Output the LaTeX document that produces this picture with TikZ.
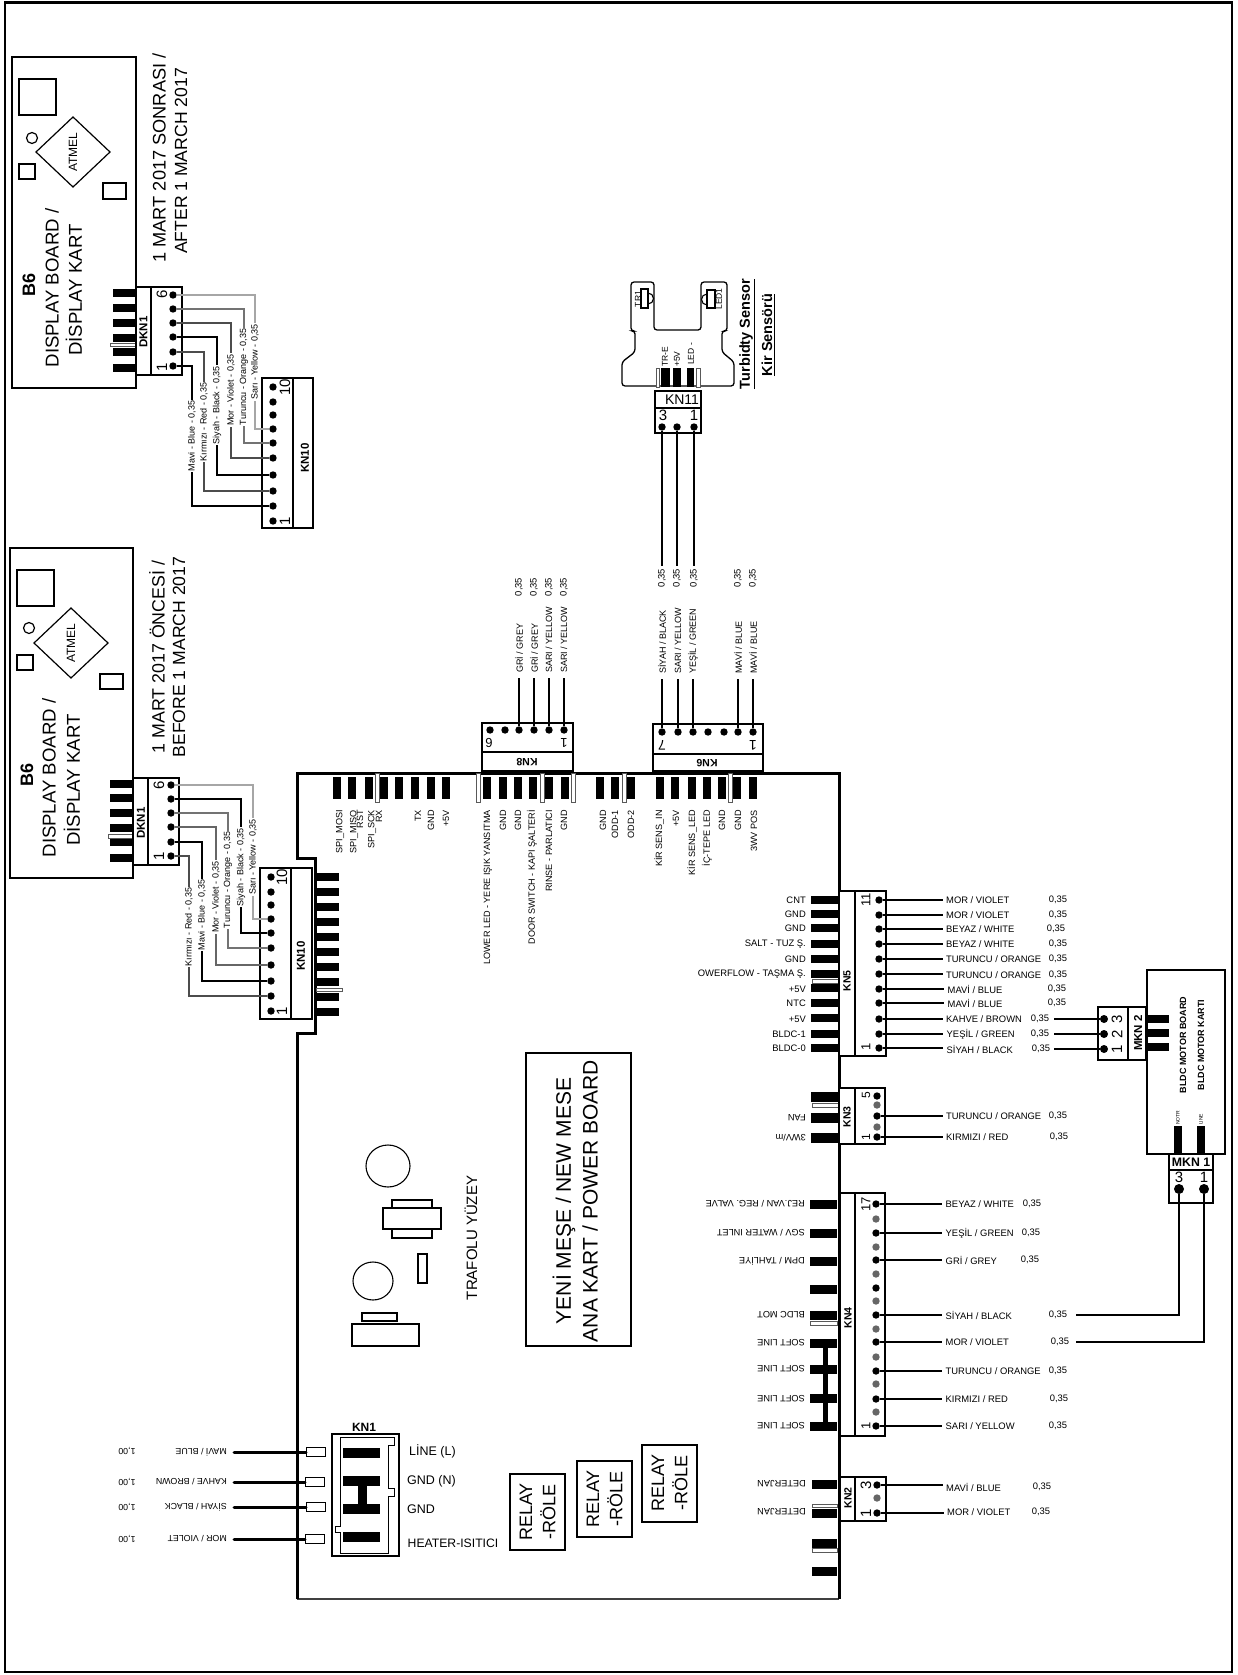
\documentclass[tikz,border=0pt]{standalone}
\usepackage{fontspec}
\setmainfont{Liberation Sans}
\newcommand{\fz}[1]{\fontsize{#1}{#1}\selectfont}
\tikzset{
  dot/.style={circle, fill=black, inner sep=0, minimum size=7.4},
  graydot/.style={dot, fill=black!60},
  bigdot/.style={dot, minimum size=10},
  midot/.style={dot, minimum size=8},
  box/.style={draw=black, fill=white, line width=1.5},
  wire/.style={line width=1.4},
  heavywire/.style={line width=3, line cap=round},
  slot/.style={draw=black!65, fill=white, line width=.9},
  txt/.style={inner sep=0, align=center},
  up/.style={txt, rotate=90},
  over/.style={txt, rotate=180},
  pinlabel/.style={up, anchor=east, font=\fz{9.1}},
  sidelabel/.style={txt, anchor=east, font=\fz{9.4}},
  backlabel/.style={over, anchor=west, font=\fz{9.2}},
  rowlabel/.style={inner ysep=0, inner xsep=3.5, anchor=west, font=\fz{9.4}},
  rowvalue/.style={txt, font=\fz{9.4}},
  uplabel/.style={up, inner xsep=5, anchor=west, font=\fz{9}},
  upvalue/.style={up, inner xsep=3, font=\fz{9.4}},
  harnesslabel/.style={up, inner sep=1, fill=white, font=\fz{9}},
  boldlabel/.style={up, font=\fz{10.5}\bfseries},
  num/.style={up, font=\fz{15}},
  backnum/.style={over, font=\fz{14}},
  mainslabel/.style={over, inner xsep=7, inner ysep=0, anchor=west, font=\fz{8.8}}
}
\begin{document}
\begin{tikzpicture}[x=1pt, y=-1pt]
    \useasboundingbox (0,0) rectangle (1237,1675);
    \draw[line width=2.5] (5,2.5) rectangle (1232,1672);

    %Display board, after
    \draw[box] (12,57) rectangle (136,388);
    \draw[line width=1.2] (19,79) rectangle (56,115);
    \draw[line width=1.2] (32,138) circle (5.5);
    \draw[line width=1.2] (36,152) -- (73,117) -- (110,152) -- (73,187) -- cycle;
    \draw[line width=1.2] (19,164) rectangle (35,179);
    \draw[line width=1.2] (103,183) rectangle (126,199);
    \node[up, font=\fz{12}] (atmela) at (73,152) {ATMEL};
    \node[up, font=\fz{18}\bfseries] (bsixa) at (29,285) {B6};
    \node[up, font=\fz{18.6}] (boarda) at (52,288) {DISPLAY BOARD /};
    \node[up, font=\fz{18.6}] (karta) at (74,290) {DİSPLAY KART};
    \node[up, font=\fz{18.2}] (datea) at (159,158) {1 MART 2017 SONRASI /};
    \node[up, font=\fz{17.6}] (dateb) at (181,161) {AFTER 1 MARCH 2017};
    \foreach \y in {293,308,323,338,352,368}
        \fill (113,\y-4) rectangle (136,\y+4);
    \draw[slot] (110,343) rectangle (136,346);
    \draw[box] (136,287) rectangle (182,375);
    \draw[box] (151,287) -- (151,375);
    \node[boldlabel, font=\fz{11.5}\bfseries] (dkna) at (143.5,332) {DKN1};
    \node[num] (dkna6) at (162,294) {6};
    \node[num] (dkna1) at (162,367) {1};
    \foreach \y [count=\i] in {366,352,337,323,309,295}
        \node[dot] (dka\i) at (173,\y) {};
    \draw[box] (262,378) rectangle (313,528);
    \draw[box] (293,378) -- (293,528);
    \node[boldlabel, font=\fz{11.5}\bfseries] (kna) at (305,458) {KN10};
    \node[num, font=\fz{15}] (kna10n) at (285,387) {10};
    \node[num] (kna1n) at (285,521) {1};
    \foreach \y [count=\i] in {521,506,491,475,458,443,429,415,402,387}
        \node[dot] (ka\i) at (273,\y) {};
    \foreach \i/\k/\dx/\col in {1/2/19/black, 2/3/31/black!70, 3/4/44/black, 4/5/58/black!70, 5/6/71/black!55, 6/7/82/black!35}
        \draw[wire, \col] (dka\i) -- ++(\dx,0) |- (ka\k);
    \node[harnesslabel] (hla1) at (192,436) {Mavi - Blue - 0,35};
    \node[harnesslabel] (hla2) at (204,422) {Kırmızı - Red - 0,35};
    \node[harnesslabel] (hla3) at (217,405) {Siyah - Black - 0,35};
    \node[harnesslabel] (hla4) at (231,390) {Mor - Violet - 0,35};
    \node[harnesslabel] (hla5) at (244,377) {Turuncu - Orange - 0,35};
    \node[harnesslabel] (hla6) at (255,362) {Sarı - Yellow - 0,35};

    %Display board, before
    \draw[box] (10,548) rectangle (133,878);
    \draw[line width=1.2] (17,570) rectangle (54,606);
    \draw[line width=1.2] (29,628) circle (5.5);
    \draw[line width=1.2] (34,643) -- (71,608) -- (108,643) -- (71,678) -- cycle;
    \draw[line width=1.2] (17,655) rectangle (33,670);
    \draw[line width=1.2] (100,674) rectangle (123,689);
    \node[up, font=\fz{12}] (atmelb) at (71,643) {ATMEL};
    \node[up, font=\fz{18}\bfseries] (bsixb) at (27,775) {B6};
    \node[up, font=\fz{18.6}] (boardb) at (49,778) {DISPLAY BOARD /};
    \node[up, font=\fz{18.6}] (kartb) at (72,780) {DİSPLAY KART};
    \node[up, font=\fz{17.8}] (datec) at (157,657) {1 MART 2017 ÖNCESİ /};
    \node[up, font=\fz{17.6}] (dated) at (179,657) {BEFORE 1 MARCH 2017};
    \foreach \y in {784,798,813,828,842,858}
        \fill (110,\y-4) rectangle (133,\y+4);
    \draw[slot] (108,834) rectangle (133,838);
    \draw[box] (133,778) rectangle (179,865);
    \draw[box] (148,778) -- (148,865);
    \node[boldlabel, font=\fz{11.5}\bfseries] (dknb) at (141,823) {DKN1};
    \node[num] (dknb6) at (159,785) {6};
    \node[num] (dknb1) at (159,856) {1};
    \foreach \y [count=\i] in {856,842,827,813,799,785}
        \node[dot] (dkb\i) at (171,\y) {};

    %Main board
    \draw[line width=1.5, black!75] (297,1599) -- (839,1599);
    \draw[line width=3] (297,1599) -- (297,1033) -- (315,1033) -- (315,858) -- (297,858) -- (297,773) -- (839,773) -- (839,1599);
    \foreach \y in {877,892,907,922,937,952,967,982,997,1012}
        \fill (317,\y-4) rectangle (339,\y+4);
    \draw[slot] (316,988) rectangle (342,991);

    \draw[box] (260,868) rectangle (312,1019);
    \draw[box] (291,868) -- (291,1019);
    \node[boldlabel, font=\fz{11.5}\bfseries] (knb) at (301,956) {KN10};
    \node[num, font=\fz{15}] (knb10n) at (282,877) {10};
    \node[num] (knb1n) at (282,1011) {1};
    \foreach \y [count=\i] in {1011,996,981,965,948,933,919,905,892,877}
        \node[dot] (kb\i) at (271,\y) {};
    \foreach \i/\k/\dx/\col in {1/2/18/black!70, 2/3/31/black, 3/4/45/black!60, 4/5/57/black!55, 5/6/70/black, 6/7/82/black!35}
        \draw[wire, \col] (dkb\i) -- ++(\dx,0) |- (kb\k);
    \node[harnesslabel] (hlb1) at (189,927) {Kırmızı - Red - 0,35};
    \node[harnesslabel] (hlb2) at (202,915) {Mavi - Blue - 0,35};
    \node[harnesslabel] (hlb3) at (216,897) {Mor - Violet - 0,35};
    \node[harnesslabel] (hlb4) at (228,880) {Turuncu - Orange - 0,35};
    \node[harnesslabel] (hlb5) at (241,867) {Siyah - Black - 0,35};
    \node[harnesslabel] (hlb6) at (253,857) {Sarı - Yellow - 0,35};

    %Top pins
    \foreach \x in {337,352,369,384,399,415,431,446,487,503,518,533,549,565,600,615,631,660,675,692,707,722,737,753}
        \fill (\x-4,777) rectangle (\x+4,799);
    \foreach \x in {375,476,540,571,622,728}
        \draw[slot] (\x,773) rectangle (\x+4,802);
    \foreach \x/\t [count=\i] in {340/SPI\_MOSI, 354/SPI\_MISO, 360/RST, 372/SPI\_SCK, 379/RX, 418/TX, 431/GND, 446/+5V,
        488/LOWER LED - YERE IŞIK YANSITMA, 503/GND, 518/GND, 532/DOOR SWITCH - KAPI ŞALTERİ, 549/RINSE - PARLATICI, 564/GND,
        603/GND, 615/ODD-1, 631/ODD-2,
        659/KİR SENS\_IN, 676/+5V, 692/KİR SENS\_LED, 707/İÇ-TEPE LED, 722/GND, 738/GND, 754/3WV POS}
        \node[pinlabel] (top\i) at (\x,810) {\t};

    %KN8
    \draw[box] (482,723) rectangle (573,771);
    \draw[box] (482,752) -- (573,752);
    \node[over, font=\fz{10.5}\bfseries] (kneight) at (527,762) {KN8};
    \node[backnum, font=\fz{13}] (kneight6) at (489,743) {6};
    \node[backnum, font=\fz{13}] (kneight1) at (564,743) {1};
    \foreach \x [count=\i] in {564,549,534,519,505,490}
        \node[dot] (keight\i) at (\x,730) {};
    \foreach \i/\x/\t in {1/564/{SARI / YELLOW}, 2/549/{SARI / YELLOW}, 3/534/{GRİ / GREY}, 4/519/{GRİ / GREY}}{
        \node[uplabel] (keightl\i) at (\x,678) {\t};
        \node[upvalue] (keightv\i) at (\x,587) {0,35};
        \draw[wire] (keight\i) -- (keightl\i.west);
    }

    %KN6
    \draw[box] (653,724) rectangle (763,771);
    \draw[box] (653,754) -- (763,754);
    \node[over, font=\fz{10.5}\bfseries] (knsix) at (707,763) {KN6};
    \node[backnum] (knsix7) at (662,745) {7};
    \node[backnum] (knsix1) at (753,745) {1};
    \foreach \x [count=\i] in {753,738,724,708,693,678,662}
        \node[dot] (ksix\i) at (\x,732) {};
    \foreach \i/\x/\t in {1/753/{MAVİ / BLUE}, 2/738/{MAVİ / BLUE}, 5/693/{YEŞİL / GREEN}, 6/678/{SARI / YELLOW}, 7/662/{SİYAH / BLACK}}{
        \node[uplabel] (ksixl\i) at (\x,679) {\t};
        \draw[wire] (ksix\i) -- (ksixl\i.west);
    }
    \node[upvalue] (ksixv1) at (753,578) {0,35};
    \node[upvalue] (ksixv2) at (738,578) {0,35};

    %Turbidity sensor
    \draw[line width=1.3, fill=white, rounded corners=3] (622,386) -- (622,362) -- (635,352) -- (635,331) -- (631,331) -- (631,282) -- (654,282) -- (654,330) -- (701,330) -- (701,282) -- (727,282) -- (727,331) -- (722,331) -- (722,352) -- (734,362) -- (734,386) -- cycle;
    \draw[line width=1.1] (641,289) rectangle (648,308);
    \draw[line width=1.1] (648,304) arc[start angle=90, end angle=-90, radius=5.5];
    \draw[line width=1.1] (707,290) rectangle (715,308);
    \draw[line width=1.1] (707,305) arc[start angle=90, end angle=270, radius=5.5];
    \node[up, font=\fz{8.5}] (trone) at (638,299) {TR1};
    \node[up, font=\fz{8.5}] (ledone) at (719,299) {LED1};
    \fill (661,368) rectangle (670,387);
    \fill (673,368) rectangle (681,387);
    \fill (687,368) rectangle (694,387);
    \draw[slot] (656,368) rectangle (659.5,387);
    \draw[slot] (696,368) rectangle (700,387);
    \node[up, anchor=west, font=\fz{8.5}] (tre) at (665,367) {TR-E};
    \node[up, anchor=west, font=\fz{8.5}] (fivev) at (677,367) {+5V};
    \node[up, anchor=west, font=\fz{8.5}] (ledm) at (691,365) {LED -};
    \node[up, font=\fz{14.5}\bfseries] (turba) at (747,334) {\underline{Turbidty Sensor}};
    \node[up, font=\fz{14.5}\bfseries] (turbb) at (768,335) {\underline{Kir Sensörü}};
    \draw[box] (655,391) rectangle (701,433);
    \draw[box] (655,408) -- (701,408);
    \node[txt, font=\fz{14}] (knel) at (682,400) {KN11};
    \node[txt, font=\fz{15}] (knel3) at (663,415) {3};
    \node[txt, font=\fz{15}] (knel1) at (694,415) {1};
    \foreach \x/\i in {694/1, 677/2, 662/3}{
        \node[dot] (kel\i) at (\x,427) {};
        \node[upvalue] (kelv\i) at (\x,578) {0,35};
        \draw[wire] (kel\i) -- (kelv\i.east);
    }

    %KN5
    \foreach \y in {900,914,928,944,959,974,988,1003,1018,1034,1048}
        \fill (811,\y-4) rectangle (838,\y+4);
    \draw[slot] (812,979) rectangle (838,983.5);
    \draw[box] (839,891) rectangle (886,1056);
    \draw[box] (855,891) -- (855,1056);
    \node[boldlabel] (knfive) at (847,981) {KN5};
    \node[num, font=\fz{13}] (knfive11) at (866,900) {11};
    \node[num, font=\fz{13}] (knfive1) at (866,1047) {1};
    \foreach \y [count=\i] in {1048,1034,1019,1003,989,974,959,944,929,915,900}
        \node[dot] (kfive\i) at (879,\y) {};
    \foreach \y/\t [count=\i] in {1048/BLDC-0, 1034/BLDC-1, 1019/+5V, 1003/NTC, 989/+5V, 974/OWERFLOW - TAŞMA Ş., 959/GND, 944/SALT - TUZ Ş., 928/GND, 914/GND, 900/CNT}
        \node[sidelabel] (kfivep\i) at (806,\y) {\t};
    \foreach \i/\y/\lx/\vx/\t in {11/900/942.5/1058/{MOR / VIOLET}, 10/915/942.5/1058/{MOR / VIOLET}, 9/929/942.5/1056/{BEYAZ  / WHITE}, 8/944/942.5/1058/{BEYAZ / WHITE},
        7/959/942.5/1058/{TURUNCU / ORANGE}, 6/975/942.5/1058/{TURUNCU / ORANGE}, 5/989/944/1057/{MAVİ / BLUE}, 4/1003/944/1057/{MAVİ / BLUE},
        3/1019/942.5/1040/{KAHVE / BROWN}, 2/1034/943/1040/{YEŞİL /  GREEN}, 1/1049/943/1041/{SİYAH / BLACK}}{
        \node[rowlabel] (kfivel\i) at (\lx,\y) {\t};
        \node[rowvalue] (kfivev\i) at (\vx,\y) {0,35};
        \draw[wire] (kfive\i) -- (kfive\i -| kfivel\i.west);
    }

    %KN3
    \foreach \y in {1097,1118,1138}
        \fill (811,\y-5) rectangle (838,\y+5);
    \draw[slot] (812,1103) rectangle (838,1107);
    \draw[box] (839,1088) rectangle (885,1144);
    \draw[box] (855,1088) -- (855,1144);
    \node[boldlabel] (knthree) at (847,1117) {KN3};
    \node[num, font=\fz{12}] (knthree5) at (866,1095) {5};
    \node[num, font=\fz{12}] (knthree1) at (866,1137) {1};
    \foreach \y/\s [count=\i] in {1137/dot, 1127/graydot, 1116/dot, 1105/graydot, 1096/dot}
        \node[\s] (kthree\i) at (877,\y) {};
    \node[backlabel] (fan) at (806,1118) {FAN};
    \node[backlabel] (threewv) at (806,1138) {3WV/m};
    \foreach \i/\y/\vx/\t in {3/1116/1058/{TURUNCU / ORANGE}, 1/1137/1059/{KIRMIZI / RED}}{
        \node[rowlabel] (kthreel\i) at (942.5,\y) {\t};
        \node[rowvalue] (kthreev\i) at (\vx,\y) {0,35};
        \draw[wire] (kthree\i) -- (kthree\i -| kthreel\i.west);
    }

    %KN4
    \foreach \y in {1204,1233,1261,1289,1315,1343,1369,1398,1426}
        \fill (810,\y-4.5) rectangle (837,\y+4.5);
    \fill (823,1343) rectangle (828,1426);
    \draw[slot] (810,1321.5) rectangle (837,1325);
    \draw[box] (840,1193) rectangle (885,1436);
    \draw[box] (855,1193) -- (855,1436);
    \node[boldlabel] (knfour) at (848,1318) {KN4};
    \node[num, font=\fz{13}] (knfour17) at (866,1204) {17};
    \node[num, font=\fz{13}] (knfour1) at (866,1426) {1};
    \foreach \y/\s [count=\i] in {1426/dot, 1412/graydot, 1399/dot, 1384/graydot, 1371/dot, 1357/graydot, 1342/dot, 1329/graydot, 1315/dot, 1301/graydot, 1288/dot, 1274/graydot, 1260/dot, 1247/graydot, 1233/dot, 1219/graydot, 1204/dot}
        \node[\s] (kfour\i) at (876,\y) {};
    \foreach \y/\t [count=\i] in {1204/{REJ.VAN / REG. VALVE}, 1233/{SGV / WATER INLET}, 1261/{DPM / TAHLİYE}, 1315/BLDC  MOT, 1343/SOFT LINE, 1369/SOFT LINE, 1399/SOFT LINE, 1426/SOFT LINE}
        \node[backlabel] (kfourp\i) at (805,\y) {\t};
    \foreach \i/\y/\vx/\t in {17/1204/1032/{BEYAZ / WHITE}, 15/1233/1031/{YEŞİL / GREEN}, 13/1260/1030/{GRİ / GREY}, 9/1315/1058/{SİYAH / BLACK},
        7/1342/1060/{MOR / VIOLET}, 5/1371/1058/{TURUNCU / ORANGE}, 3/1399/1059/{KIRMIZI / RED}, 1/1426/1058/{SARI / YELLOW}}{
        \node[rowlabel] (kfourl\i) at (942,\y) {\t};
        \node[rowvalue] (kfourv\i) at (\vx,\y) {0,35};
        \draw[wire] (kfour\i) -- (kfour\i -| kfourl\i.west);
    }

    %KN2
    \foreach \y in {1484,1513,1543,1571}
        \fill (812,\y-4.5) rectangle (837,\y+4.5);
    \draw[slot] (812,1504) rectangle (837,1507);
    \draw[slot] (812,1548.5) rectangle (837,1552);
    \draw[box] (840,1477) rectangle (886,1521);
    \draw[box] (855,1477) -- (855,1521);
    \node[boldlabel] (kntwo) at (848,1498) {KN2};
    \node[num] (kntwo3) at (866,1485) {3};
    \node[num] (kntwo1) at (866,1513) {1};
    \foreach \y/\s [count=\i] in {1513/dot, 1498/graydot, 1485/dot}
        \node[\s] (ktwo\i) at (877,\y) {};
    \node[backlabel] (deta) at (806,1484) {DETERJAN};
    \node[backlabel] (detb) at (806,1512) {DETERJAN};
    \foreach \i/\y/\lx/\vx/\t in {3/1487/942.5/1042/{MAVİ / BLUE}, 1/1512/943.5/1041/{MOR / VIOLET}}{
        \node[rowlabel] (ktwol\i) at (\lx,\y) {\t};
        \node[rowvalue] (ktwov\i) at (\vx,\y) {0,35};
        \draw[wire] (ktwo\i) -- (ktwo\i -| ktwol\i.west);
    }

    %BLDC motor board
    \draw[box] (1147,970) rectangle (1225,1154);
    \foreach \y in {1019,1033,1047}
        \fill (1147,\y-4) rectangle (1169,\y+4);
    \fill (1174,1126) rectangle (1182,1154);
    \fill (1197,1126) rectangle (1205,1154);
    \node[up, font=\fz{9}\bfseries] (motora) at (1183,1045) {BLDC MOTOR BOARD};
    \node[up, font=\fz{9}\bfseries] (motorb) at (1201,1045) {BLDC MOTOR KARTI};
    \node[up, anchor=west, font=\fz{5}] (notr) at (1178,1125) {NOTR};
    \node[up, anchor=west, font=\fz{5}] (linep) at (1201,1125) {LINE};
    \draw[box] (1098,1007) rectangle (1146,1060);
    \draw[box] (1128,1007) -- (1128,1060);
    \node[boldlabel, font=\fz{11.5}\bfseries] (mkntwo) at (1138,1033) {MKN 2};
    \foreach \y/\i in {1049/1, 1034/2, 1019/3}{
        \node[midot] (mktwo\i) at (1104,\y) {};
        \node[num] (mktwon\i) at (1117,\y) {\i};
        \coordinate (mkfree\i) at (1054,\y);
        \draw[wire] (mkfree\i) -- (mktwo\i);
    }
    \draw[box] (1169,1154) rectangle (1213,1203);
    \draw[box] (1169,1170) -- (1213,1170);
    \node[txt, font=\fz{12.3}\bfseries] (mknone) at (1191,1162) {MKN 1};
    \node[txt, font=\fz{15}] (mknone3) at (1179,1177) {3};
    \node[txt, font=\fz{15}] (mknone1) at (1204,1177) {1};
    \node[bigdot] (mkone3) at (1179,1189) {};
    \node[bigdot] (mkone1) at (1204,1189) {};
    \coordinate (mkfreea) at (1076,1315);
    \coordinate (mkfreeb) at (1076,1342);
    \draw[wire] (mkone3) |- (mkfreea);
    \draw[wire] (mkone1) |- (mkfreeb);

    %Power board text
    \draw[line width=1.3] (526,1053) rectangle (631,1346);
    \node[up, font=\fz{21}] (newmese) at (564,1201) {YENİ MEŞE / NEW MESE};
    \node[up, font=\fz{21}] (powerb) at (590,1201) {ANA KART / POWER BOARD};
    \draw[line width=1.1] (388,1166) ellipse (22 and 21);
    \draw[line width=1.1] (373,1281) ellipse (20 and 19);
    \draw[line width=1.1] (392,1200) rectangle (432,1238);
    \draw[line width=1.1, fill=white] (383,1208) rectangle (441,1229);
    \draw[line width=1.1] (418,1254) rectangle (427,1283);
    \draw[line width=1.1] (362,1313) rectangle (397,1321);
    \draw[line width=1.1] (352,1324) rectangle (419,1346);
    \node[up, font=\fz{15}] (trafo) at (471,1238) {TRAFOLU YÜZEY};
    \foreach \x/\ya/\yb/\yc [count=\i] in {510/1474/1550/1512, 577/1461/1537/1499, 642/1445/1522/1483}{
        \draw[line width=1.2] (\x,\ya) rectangle (\x+55,\yb);
        \node[up, font=\fz{18}] (relay\i) at (\x+16,\yc) {RELAY};
        \node[up, font=\fz{18}] (role\i) at (\x+38,\yc) {-RÖLE};
    }

    %KN1
    \draw[line width=2, fill=white] (332,1434) rectangle (399,1556);
    \draw[line width=.9] (340,1437) -- (394,1437) -- (394,1445) -- (388,1445) -- (388,1488) -- (394,1488) -- (394,1496) -- (388,1496) -- (388,1553) -- (340,1553) -- (340,1532) -- (335,1532) -- (335,1526) -- (340,1526) -- cycle;
    \foreach \y in {1453,1481,1509,1537}
        \fill (343,\y-5.3) rectangle (380,\y+5.3);
    \fill (358,1481) rectangle (367,1509);
    \node[txt, font=\fz{12}\bfseries] (knone) at (364,1427) {KN1};
    \node[txt, anchor=west, font=\fz{12.5}] (line) at (409,1451) {LİNE (L)};
    \node[txt, anchor=west, font=\fz{12.5}] (gndn) at (407,1481) {GND (N)};
    \node[txt, anchor=west, font=\fz{12.5}] (gnd) at (407,1509) {GND};
    \node[txt, anchor=west, font=\fz{12.2}] (heater) at (407.5,1543) {HEATER-ISITICI};
    \foreach \i/\x/\y/\vy/\t in {1/306/1452/1451/{MAVİ / BLUE}, 2/305/1482/1482/{KAHVE / BROWN}, 3/306/1507/1507/{SİYAH / BLACK}, 4/305/1539/1539/{MOR / VIOLET}}{
        \node[draw=black, line width=1, fill=white, inner sep=0, minimum width=19, minimum height=9, anchor=west] (kone\i) at (\x,\y) {};
        \node[mainslabel] (konel\i) at (234,\y) {\t};
        \node[over, font=\fz{8.8}] (konev\i) at (127,\vy) {1,00};
        \draw[heavywire] (konel\i.west) -- (kone\i.west);
    }
\end{tikzpicture}
\end{document}
